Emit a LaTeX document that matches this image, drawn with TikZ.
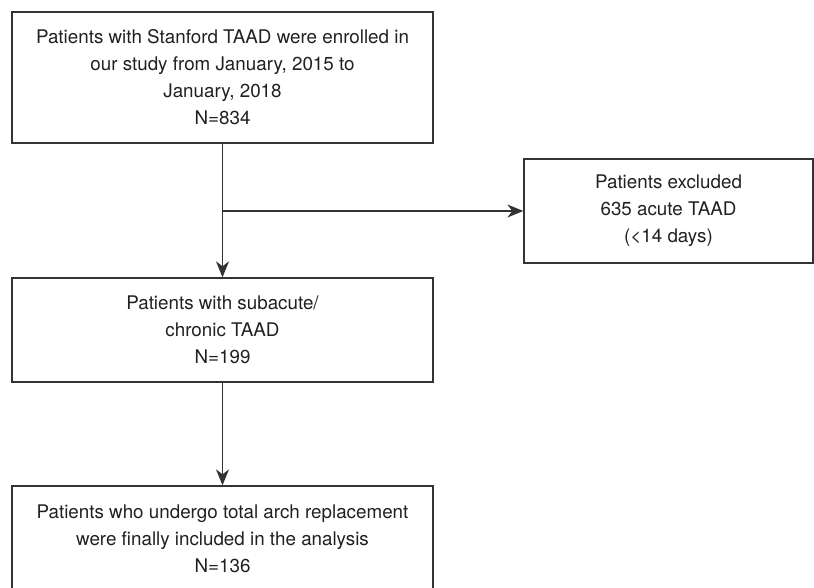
\documentclass[tikz,border=0pt]{standalone}
\usepackage{fontspec}
\setmainfont{TeX Gyre Heros}
\usetikzlibrary{arrows.meta,positioning}
\definecolor{linegray}{HTML}{333333}
\definecolor{textgray}{HTML}{231F20}

\begin{document}
\begin{tikzpicture}[x=1pt, y=1pt, line width=1.3pt,
  flowbox/.style={draw=linegray, text=textgray, align=center, inner sep=0pt,
    font=\fontsize{18.8}{27}\selectfont},
  flowarrow/.style={draw=linegray, -{Stealth[length=16pt,width=13pt,inset=5pt]}}]

\useasboundingbox (0,0) rectangle (814,587);

\node[flowbox, minimum width=421pt, minimum height=131pt] (enrolled) at (222.5,509.5)
  {Patients with Stanford TAAD were enrolled in\\our study from January, 2015 to\\January, 2018\\N=834};

\node[flowbox, minimum width=289pt, minimum height=104pt] (excluded) at (668.5,376)
  {Patients excluded\\635 acute TAAD\\(\textless14 days)};

\node[flowbox, minimum width=421pt, minimum height=104pt] (subacute) at (222.5,257)
  {Patients with subacute/\\chronic TAAD\\N=199};

\node[flowbox, minimum width=421pt, minimum height=105pt] (included) at (222.5,48.5)
  {Patients who undergo total arch replacement\\were finally included in the analysis\\N=136};

\coordinate (split) at (enrolled.south |- excluded.west);

\draw[flowarrow] (enrolled.south)--(subacute.north);
\draw[flowarrow] (split)--(excluded.west);
\draw[flowarrow] (subacute.south)--(included.north);

\end{tikzpicture}
\end{document}
